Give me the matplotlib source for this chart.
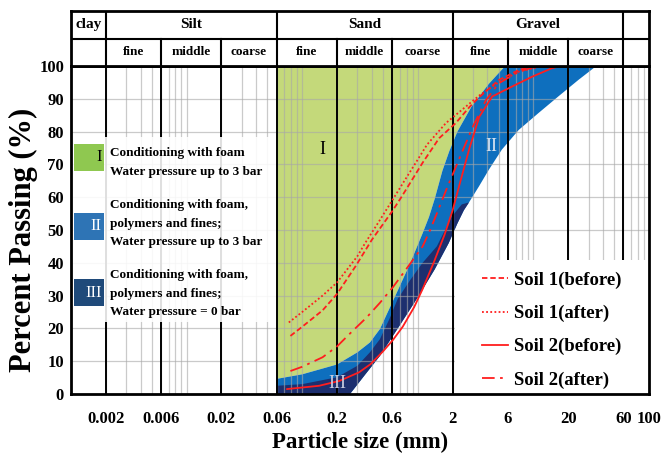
"""
Grading curves of the soils against the application zones I-III.
"""

import matplotlib.pyplot as plt
from matplotlib.lines import Line2D
from matplotlib.patches import Rectangle

plt.rcParams["font.family"] = ["Liberation Serif", "DejaVu Serif"]
plt.rcParams["font.weight"] = "bold"
plt.rcParams["axes.labelweight"] = "bold"

# grading curves, particle size (mm) / percent passing (%)
soil1_before_d = [0.079, 0.1, 0.15, 0.2, 0.29, 0.4, 0.6, 0.72, 1.1, 1.53, 2.13, 2.8, 3.4, 5.0, 7.5, 10.5]
soil1_before_p = [17.7, 20.5, 25.5, 30.5, 39, 47, 55.7, 60, 70.5, 78, 82.6, 87.5, 90.5, 95.7, 98.8, 100]

soil1_after_d = [0.0765, 0.1, 0.15, 0.2, 0.3, 0.35, 0.45, 0.6, 0.75, 1.0, 1.2, 1.75, 2.4, 3.4, 5.0, 7.5, 12]
soil1_after_p = [21.8, 25, 30, 34, 42, 46, 52, 59, 64.5, 71.5, 76, 82.6, 86.6, 91, 95, 98.3, 100]

soil2_before_d = [0.074, 0.14, 0.21, 0.31, 0.39, 0.5, 0.61, 0.74, 0.93, 1.1, 1.37, 1.7, 2.0, 2.3, 2.8, 3.4, 4.4, 6.5, 9.7, 14.4, 17]
soil2_before_p = [1.5, 2.5, 4, 6.6, 9.1, 13, 16.5, 20.5, 26.5, 32, 40, 48.5, 56, 64, 75, 84.5, 90.7, 93.7, 96.7, 99.3, 100]

soil2_after_d = [0.079, 0.1, 0.15, 0.2, 0.26, 0.36, 0.47, 0.61, 0.85, 1.1, 1.26, 1.44, 1.75, 2.3, 3.0, 3.9, 5.0, 7.5, 11]
soil2_after_p = [7, 8.3, 11.2, 14.5, 18.5, 23.3, 27.8, 32.6, 39.5, 45, 49.5, 54.5, 62, 72, 81.6, 89.7, 94.7, 98.3, 100]

# zone limits
zone1_d = [0.06, 0.1, 0.2, 0.3, 0.385, 0.47, 0.55, 0.64, 0.85, 1.1, 1.25, 1.4, 1.63, 1.87, 2.2, 2.9, 4.1, 5.7]
zone1_p = [4.6, 6, 9, 12.7, 15.7, 19.8, 25, 30, 39.5, 49, 54, 59.5, 68, 74, 80, 87.5, 94.5, 100]

zone2_d = [0.259, 0.35, 0.47, 0.7, 1.0, 1.4, 1.85, 2.2, 2.5, 2.77, 3.38, 4.12, 5.33, 7.46, 11.1, 16.4, 24.4, 35]
zone2_p = [0, 5.9, 11.6, 21, 29.5, 38, 46, 52, 56, 58.4, 63.3, 68.4, 74.5, 80.5, 85.7, 90.7, 95.7, 100]

zone3_d = [0.06, 0.1, 0.2, 0.3, 0.385, 0.47, 0.57, 0.67, 0.85, 1.1, 1.46, 1.96, 2.4]
zone3_p = [2.5, 3, 5.1, 8.6, 12.7, 16.7, 23, 29, 34.5, 40, 45, 54, 57.8]

x_ticks = [0.002, 0.006, 0.02, 0.06, 0.2, 0.6, 2, 6, 20, 60, 100]
x_labels = ["0.002", "0.006", "0.02", "0.06", "0.2", "0.6", "2", "6", "20", "60", "100"]
class_limits = [0.002, 0.006, 0.02, 0.06, 0.2, 0.6, 2, 6, 20, 60]
main_limits = [0.002, 0.06, 2, 60]
main_names = ["clay", "Silt", "Sand", "Gravel", ""]
sub_names = ["", "fine", "middle", "coarse", "fine", "middle", "coarse", "fine", "middle", "coarse", ""]

GREEN = "#C4D97A"
BLUE = "#0E6FBE"
NAVY = "#1D2F6F"
RED = "#FF1E1E"
XMIN, XMAX = 0.001, 100

fig = plt.figure(figsize=(6.62, 4.57), dpi=100)
ax = fig.add_axes([0.1073, 0.1379, 0.8731, 0.7177])
ax.set_xscale("log")
ax.set_xlim(XMIN, XMAX)
ax.set_ylim(0, 100)

# zones
ax.fill(zone1_d + [0.06], zone1_p + [100], color=GREEN, lw=0, zorder=1)
ax.fill(zone1_d + zone2_d[::-1] + [0.06], zone1_p + zone2_p[::-1] + [0], color=BLUE, lw=0, zorder=1.1)
navy_right = [(d, p) for d, p in zip(zone2_d, zone2_p) if p <= 58.4]
ax.fill(zone3_d + [d for d, p in navy_right[::-1]] + [0.06],
        zone3_p + [p for d, p in navy_right[::-1]] + [0], color=NAVY, lw=0, zorder=1.2)

# grid
minor = [m * 10.0 ** k for k in range(-3, 2) for m in range(1, 10)]
for x in minor:
    ax.axvline(x, color="#a8a8a8", lw=0.9, alpha=0.6, zorder=2)
for y in range(10, 100, 10):
    ax.axhline(y, color="#a8a8a8", lw=0.9, alpha=0.6, zorder=2)
for x in class_limits:
    ax.axvline(x, color="black", lw=1.4, zorder=2.5)

# curves
kw = dict(color=RED, lw=1.3, zorder=4, solid_joinstyle="round", dash_joinstyle="round")
ax.plot(soil1_before_d, soil1_before_p, ls=(0, (3, 1.6)), **kw)
ax.plot(soil1_after_d, soil1_after_p, ls=(0, (1, 1.3)), **kw)
ax.plot(soil2_before_d, soil2_before_p, **kw)
ax.plot(soil2_after_d, soil2_after_p, ls=(0, (7, 3, 1.5, 3)), **kw)

ax.text(0.15, 74.5, "I", fontsize=13, fontweight="normal", ha="center", va="center", zorder=5)
ax.text(4.3, 75.5, "II", fontsize=13, fontweight="normal", color="#d8e4f2", ha="center", va="center", zorder=5)
ax.text(0.2, 3.3, "III", fontsize=13, fontweight="normal", color="#c8cce0", ha="center", va="center", zorder=5)

# zone legend
ax.add_patch(Rectangle((0, 0.22), 0.355, 0.564, transform=ax.transAxes, facecolor="white",
                       edgecolor="none", alpha=0.88, zorder=3))
zone_items = [
    ("I", "#8FC850", "black", 0.68, ["Conditioning with foam", "Water pressure up to 3 bar"], 0.735),
    ("II", "#2E74B5", "white", 0.47, ["Conditioning with foam,", "polymers and fines;",
                                      "Water pressure up to 3 bar"], 0.576),
    ("III", "#1F4A7A", "white", 0.268, ["Conditioning with foam,", "polymers and fines;",
                                        "Water pressure = 0 bar"], 0.363),
]
for num, col, tcol, y0, lines, ty in zone_items:
    ax.add_patch(Rectangle((0.005, y0), 0.052, 0.083, transform=ax.transAxes, facecolor=col,
                           edgecolor="none", zorder=3.5))
    ax.text(0.053, y0 + 0.041, num, transform=ax.transAxes, fontsize=12, fontweight="normal",
            color=tcol, ha="right", va="center", zorder=4)
    for i, line in enumerate(lines):
        ax.text(0.0675, ty - i * 0.057, line, transform=ax.transAxes, fontsize=9.5,
                ha="left", va="center", zorder=4)

# soil legend
ax.add_patch(Rectangle((0.664, 0), 0.336, 0.409, transform=ax.transAxes, facecolor="white",
                       edgecolor="none", zorder=3))
handles = [
    Line2D([], [], color=RED, lw=1.3, ls=(0, (3, 1.6))),
    Line2D([], [], color=RED, lw=1.3, ls=(0, (1, 1.3))),
    Line2D([], [], color=RED, lw=1.3),
    Line2D([], [], color=RED, lw=1.3, ls=(0, (7, 3, 1.5, 3))),
]
leg = ax.legend(handles, ["Soil 1(before)", "Soil 1(after)", "Soil 2(before)", "Soil 2(after)"],
                loc="center", bbox_to_anchor=(0.664, -0.01, 0.336, 0.409), frameon=False,
                fontsize=13.5, handlelength=1.4, handletextpad=0.3, labelspacing=0.85)
leg.set_zorder(6)

ax.set_yticks(range(0, 101, 10))
ax.set_xticks(x_ticks)
ax.set_xticklabels(x_labels)
ax.minorticks_off()
ax.tick_params(length=0, labelsize=12, pad=12)
ax.tick_params(axis="y", pad=5)
for s in ax.spines.values():
    s.set_linewidth(2)
    s.set_zorder(7)
ax.set_xlabel("Particle size (mm)", fontsize=16.5, labelpad=4)
ax.set_ylabel("Percent Passing (%)", fontsize=22)
ax.yaxis.set_label_coords(-0.058, 0.47)

# soil class header
hx = fig.add_axes([0.1073, 0.8556, 0.8731, 0.12])
hx.set_xscale("log")
hx.set_xlim(XMIN, XMAX)
hx.set_ylim(0, 2)
hx.set_xticks([])
hx.set_yticks([])
hx.minorticks_off()
for s in hx.spines.values():
    s.set_linewidth(2)
hx.axhline(1, color="black", lw=1.5)
for x in class_limits:
    hx.plot([x, x], [0, 2 if x in main_limits else 1], color="black", lw=1.5)
edges = [XMIN] + main_limits + [XMAX]
for a, b, name in zip(edges[:-1], edges[1:], main_names):
    hx.text((a * b) ** 0.5, 1.5, name, fontsize=11, ha="center", va="center")
edges = [XMIN] + class_limits + [XMAX]
for a, b, name in zip(edges[:-1], edges[1:], sub_names):
    hx.text((a * b) ** 0.5, 0.5, name, fontsize=9.5, ha="center", va="center")

fig.savefig("out.png", dpi=100)
